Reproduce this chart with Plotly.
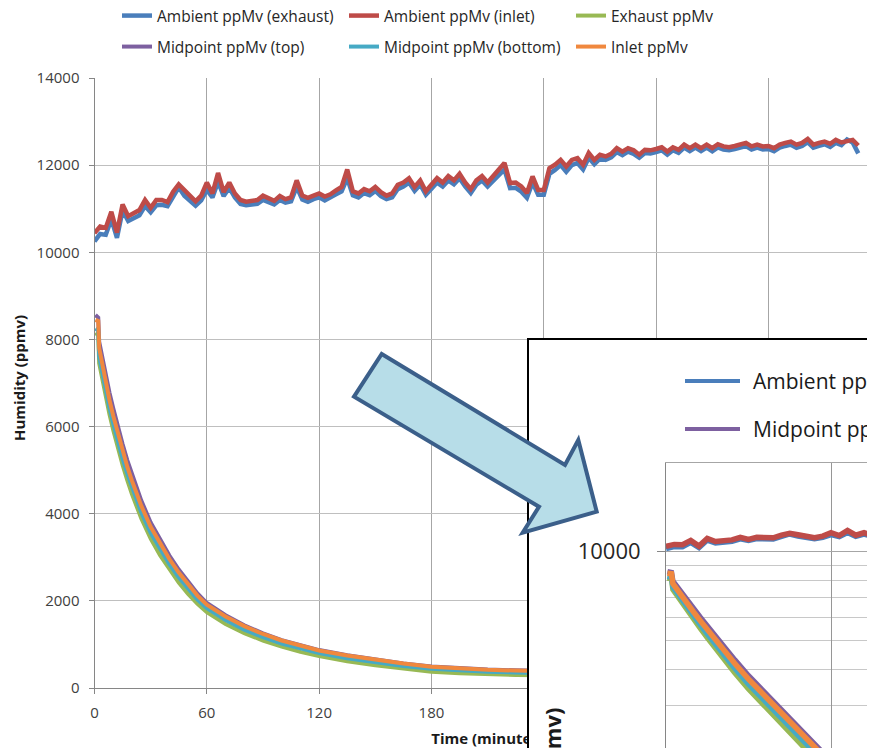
import math
import plotly.graph_objects as go

# -----------------------------------------
# Data
# -----------------------------------------
series_names = [
    'Ambient ppMv (exhaust)', 'Ambient ppMv (inlet)', 'Exhaust ppMv',
    'Midpoint ppMv (top)', 'Midpoint ppMv (bottom)', 'Inlet ppMv',
]
series_colors = ['#4a7ebb', '#be4b48', '#98b954', '#7d60a0', '#46aac5', '#f0883e']

# ambient sensors, one reading every 3 minutes
time_ambient = list(range(0, 409, 3))

ambient_inlet = [
    10440, 10590, 10560, 10930, 10450, 11100, 10830, 10900, 10970, 11200,
    11020, 11200, 11200, 11150, 11390, 11560, 11420, 11300, 11170, 11300,
    11600, 11350, 11820, 11380, 11600, 11350, 11200, 11160, 11180, 11200,
    11300, 11250, 11180, 11290, 11220, 11260, 11650, 11300, 11250, 11300,
    11350, 11280, 11330, 11420, 11500, 11900, 11400, 11350, 11450, 11400,
    11500, 11380, 11300, 11350, 11550, 11600, 11700, 11500, 11650, 11400,
    11550, 11700, 11600, 11750, 11650, 11800, 11600, 11450, 11650, 11750,
    11600, 11750, 11890, 12050, 11590, 11600, 11510, 11360, 11740, 11430,
    11430, 11930, 12010, 12120, 11970, 12120, 12160, 12010, 12280, 12120,
    12240, 12200, 12260, 12390, 12310, 12390, 12340, 12240, 12350, 12340,
    12370, 12410, 12310, 12410, 12350, 12470, 12390, 12470, 12390, 12470,
    12390, 12480, 12430, 12410, 12440, 12470, 12510, 12430, 12470, 12430,
    12440, 12390, 12470, 12510, 12540, 12470, 12510, 12600, 12470, 12510,
    12540, 12490, 12580, 12520, 12540, 12580, 12450,
]

ambient_exhaust = [
    10250, 10420, 10400, 10760, 10330, 10960, 10720, 10790, 10850, 11060,
    10920, 11080, 11090, 11060, 11280, 11490, 11300, 11190, 11070, 11190,
    11430, 11260, 11620, 11290, 11480, 11260, 11110, 11080, 11090, 11110,
    11200, 11160, 11100, 11200, 11140, 11170, 11500, 11210, 11160, 11220,
    11260, 11190, 11250, 11330, 11400, 11700, 11310, 11260, 11360, 11310,
    11410, 11290, 11220, 11260, 11450, 11510, 11600, 11410, 11550, 11320,
    11460, 11600, 11510, 11650, 11560, 11700, 11510, 11360, 11550, 11650,
    11510, 11650, 11780, 11900, 11470, 11480, 11390, 11250, 11600, 11320,
    11320, 11800, 11890, 12000, 11850, 12000, 12050, 11900, 12170, 12020,
    12150, 12120, 12180, 12300, 12230, 12310, 12260, 12170, 12280, 12270,
    12300, 12340, 12240, 12340, 12280, 12400, 12320, 12400, 12320, 12400,
    12320, 12410, 12360, 12340, 12370, 12400, 12440, 12360, 12400, 12360,
    12370, 12320, 12400, 12440, 12470, 12400, 12440, 12530, 12400, 12440,
    12480, 12420, 12510, 12460, 12590, 12520, 12270,
]

# drying sensors, denser readings at the start
time_decay = [
    0.5, 2, 2.5, 4, 6, 8, 10, 12.5, 15, 17.5, 20, 25, 30, 35, 40, 45, 50, 55,
    60, 70, 80, 90, 100, 110, 120, 135, 150, 165, 180, 195, 210, 225, 240,
    270, 300, 330, 360, 390, 410,
]
exhaust = [
    8150, 8100, 7450, 7100, 6680, 6280, 5920, 5500, 5120, 4770, 4450, 3890,
    3430, 3050, 2720, 2420, 2160, 1930, 1740, 1470, 1260, 1090, 950, 830,
    735, 615, 520, 440, 375, 340, 315, 300, 290, 265, 245, 230, 218, 208, 200,
]
midpoint_top = [
    8560, 8500, 7950, 7600, 7180, 6780, 6420, 5990, 5600, 5230, 4900, 4300,
    3800, 3400, 3040, 2720, 2430, 2170, 1950, 1670, 1440, 1255, 1100, 975,
    870, 750, 650, 565, 495, 455, 425, 405, 390, 355, 325, 305, 285, 270, 260,
]
midpoint_bottom = [
    8250, 8200, 7600, 7250, 6830, 6430, 6070, 5650, 5270, 4920, 4600, 4030,
    3560, 3180, 2840, 2540, 2270, 2030, 1830, 1560, 1340, 1165, 1020, 900,
    800, 680, 585, 505, 440, 400, 375, 355, 340, 310, 285, 265, 250, 238, 230,
]
inlet = [
    8450, 8420, 7800, 7440, 7010, 6610, 6250, 5830, 5440, 5080, 4760, 4180,
    3700, 3310, 2960, 2650, 2370, 2120, 1910, 1640, 1420, 1240, 1090, 965,
    860, 745, 645, 560, 490, 450, 420, 400, 385, 350, 320, 300, 280, 265, 255,
]

# -----------------------------------------
# Layout helpers (window pixels -> paper)
# the page body keeps an 8px margin, so the figure starts at (8, 8)
# -----------------------------------------
OX, OY = 8, 8
W, H = 875 - OX, 748 - OY
FONT = 'Open Sans'


def px_x(p):
    return (p - OX) / W


def px_y(p):
    return 1 - (p - OY) / H


series = [
    (time_ambient, ambient_exhaust),
    (time_ambient, ambient_inlet),
    (time_decay, exhaust),
    (time_decay, midpoint_top),
    (time_decay, midpoint_bottom),
    (time_decay, inlet),
]

fig = go.Figure()

# main chart
for i, (tx, vals) in enumerate(series):
    fig.add_trace(go.Scatter(
        x=tx, y=vals, name=series_names[i], mode='lines',
        line=dict(color=series_colors[i], width=4.5 if i < 2 else 4),
        legend='legend' if i < 3 else 'legend2',
        xaxis='x', yaxis='y',
    ))

# x-axis title of the main chart, kept in the main subplot so the inset hides its end
# (anchored on the axis baseline, pushed down below the tick labels)
fig.add_trace(go.Scatter(
    x=[420 / 2], y=[0], text=['<br><br>Time (minutes)'], mode='markers+text',
    textposition='bottom center', marker=dict(size=8, opacity=0),
    textfont=dict(family=FONT, size=15, color='#1a1a1a', weight='bold'),
    cliponaxis=False, showlegend=False, hoverinfo='skip',
    xaxis='x', yaxis='y',
))

# white inset panel with black frame
fig.add_trace(go.Scatter(x=[], y=[], showlegend=False, xaxis='x2', yaxis='y2'))

# inset: same data on a log scale
for i, (tx, vals) in enumerate(series):
    fig.add_trace(go.Scatter(
        x=tx, y=vals, name=series_names[i], mode='lines',
        line=dict(color=series_colors[i], width=5.5),
        showlegend=False, xaxis='x3', yaxis='y3',
    ))

tick_font = dict(family=FONT, size=15, color='#404040')

fig.update_layout(
    width=W, height=H,
    margin=dict(l=0, r=0, t=0, b=0, autoexpand=False),
    paper_bgcolor='white', plot_bgcolor='white',
    font=dict(family=FONT, color='#262626'),
    xaxis=dict(
        domain=[px_x(94.5), 1], range=[0, (875 - 94.5) / 1.872], anchor='y',
        tick0=0, dtick=60, showgrid=True, gridcolor='#a6a6a6', gridwidth=1,
        showline=True, linecolor='#868686', ticks='outside', ticklen=5,
        tickcolor='#868686', zeroline=False, tickfont=tick_font,
        ticklabelstandoff=6, automargin=False,
    ),
    yaxis=dict(
        domain=[px_y(688), px_y(78)], range=[0, 14000], anchor='x',
        dtick=2000, tickformat='d', showgrid=True, gridcolor='#bfbfbf', gridwidth=1,
        showline=True, linecolor='#868686', ticks='outside', ticklen=5,
        tickcolor='#868686', zeroline=False, tickfont=tick_font,
        ticklabelstandoff=6, automargin=False,
    ),
    xaxis2=dict(
        domain=[px_x(529), 1], range=[0, 1], anchor='y2', side='top',
        showline=True, linecolor='black', linewidth=2, showgrid=False,
        zeroline=False, showticklabels=False, ticks='', automargin=False,
    ),
    yaxis2=dict(
        domain=[0, px_y(340)], range=[0, 1], anchor='x2', side='left',
        showline=True, linecolor='black', linewidth=2, showgrid=False,
        zeroline=False, showticklabels=False, ticks='', automargin=False,
    ),
    xaxis3=dict(
        domain=[px_x(666), 1], range=[0, (875 - 666) / 2.75], anchor='y3',
        side='top', tick0=0, dtick=60, showgrid=True, gridcolor='#969696',
        showline=True, linecolor='#a6a6a6', zeroline=False,
        showticklabels=False, ticks='', automargin=False,
    ),
    yaxis3=dict(
        domain=[0, px_y(463)], type='log', anchor='x3',
        range=[4 - (748 - 551.7) / 295, math.log10(20000)],
        tickvals=[10000], ticktext=['10000'], ticks='outside', ticklen=8,
        tickcolor='#868686', showgrid=True, gridcolor='#a6a6a6',
        minor=dict(tickvals=[2000, 3000, 4000, 5000, 6000, 7000, 8000, 9000, 20000],
                   showgrid=True, gridcolor='#c8c8c8', ticks=''),
        showline=True, linecolor='#868686', zeroline=False,
        tickfont=dict(family=FONT, size=22, color='#262626'),
        ticklabelstandoff=12, automargin=False,
    ),
    legend=dict(
        orientation='h', x=px_x(117), y=px_y(16), xanchor='left', yanchor='middle',
        entrywidth=182, entrywidthmode='pixels', bgcolor='rgba(0,0,0,0)',
        font=dict(family=FONT, size=15.5, color='#262626'),
    ),
    legend2=dict(
        orientation='h', x=px_x(117), y=px_y(47), xanchor='left', yanchor='middle',
        entrywidth=182, entrywidthmode='pixels', bgcolor='rgba(0,0,0,0)',
        font=dict(family=FONT, size=15.5, color='#262626'),
    ),
    showlegend=True,
)

# y-axis titles
fig.add_annotation(
    text='Humidity (ppmv)', textangle=-90, showarrow=False,
    x=px_x(19), y=px_y(378), xref='paper', yref='paper',
    xanchor='center', yanchor='middle',
    font=dict(family=FONT, size=15, color='#1a1a1a', weight='bold'),
)
fig.add_annotation(
    text='Humidity (ppmv)', textangle=-90, showarrow=False,
    x=px_x(551), y=px_y(706), xref='paper', yref='paper',
    xanchor='center', yanchor='top',
    font=dict(family=FONT, size=22, color='#1a1a1a', weight='bold'),
)

# inset legend (first column only fits inside the frame)
for name, color, py in [(series_names[0], series_colors[0], 381),
                        (series_names[3], series_colors[3], 429)]:
    fig.add_shape(type='line', xref='paper', yref='paper',
                  x0=px_x(685), x1=px_x(740), y0=px_y(py), y1=px_y(py),
                  line=dict(color=color, width=4))
    fig.add_annotation(text=name, showarrow=False, xref='paper', yref='paper',
                       x=px_x(751), y=px_y(py), xanchor='left', yanchor='middle',
                       font=dict(family=FONT, size=21, color='#1a1a1a'))

# big arrow pointing into the inset
arrow_px = [(381.7, 354), (565, 465), (578.3, 440), (596.7, 511.7),
            (522.7, 532.7), (539, 506.7), (354, 396.7)]
path = 'M ' + ' L '.join(f'{px_x(a):.5f},{px_y(b):.5f}' for a, b in arrow_px) + ' Z'
fig.add_shape(type='path', path=path, xref='paper', yref='paper',
              fillcolor='#b7dde8', line=dict(color='#3b5f8a', width=4), layer='above')

fig.write_html('out.html')
